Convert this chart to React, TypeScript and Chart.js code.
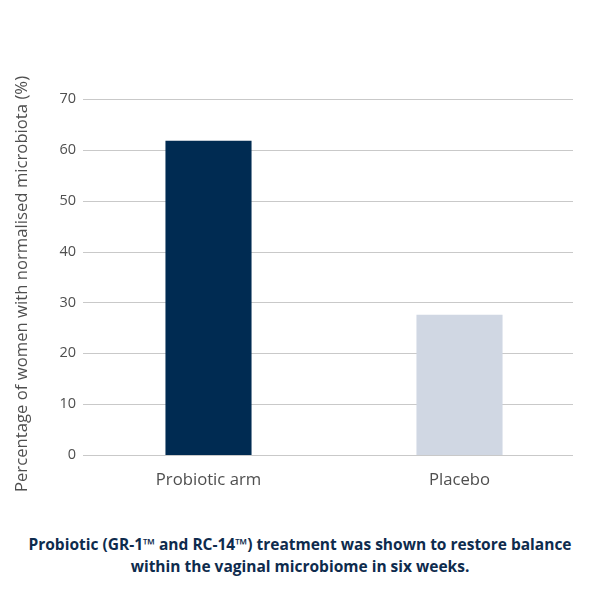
import React, { useEffect, useRef } from "react";
import { Chart, registerables } from "chart.js";

Chart.register(...registerables);

const categories = ["Probiotic arm", "Placebo"];
const values = [61.8, 27.6];
const barColors = ["#002b52", "#d0d7e3"];
const yTicksMax = 70;
const yStep = 10;
const yTitle = "Percentage of women with normalised microbiota (%)";
const captionLines = [
  "Probiotic (GR-1\u2122 and RC-14\u2122) treatment was shown to restore balance",
  "within the vaginal microbiome in six weeks.",
];

const FONT = "'Open Sans', 'Noto Sans', sans-serif";

const customPlugin = {
  id: "customDecor",
  beforeDatasetsDraw(chart: any) {
    const { ctx, scales } = chart;
    const y = scales.y;
    ctx.save();
    ctx.strokeStyle = "#c9c9c9";
    ctx.lineWidth = 1;
    y.ticks.forEach((t: any) => {
      const py = Math.round(y.getPixelForValue(t.value)) + 0.5;
      ctx.beginPath();
      ctx.moveTo(83, py);
      ctx.lineTo(573, py);
      ctx.stroke();
    });
    ctx.restore();
  },
  afterDraw(chart: any) {
    const { ctx } = chart;
    ctx.save();
    ctx.translate(22, 284);
    ctx.rotate(-Math.PI / 2);
    ctx.font = `16.7px ${FONT}`;
    ctx.fillStyle = "#4f4f4f";
    ctx.textAlign = "center";
    ctx.textBaseline = "middle";
    ctx.fillText(yTitle, 0, 0);
    ctx.restore();
  },
};

export default function App() {
  const ref = useRef<HTMLCanvasElement | null>(null);
  useEffect(() => {
    if (!ref.current) return;
    const chart = new Chart(ref.current, {
      type: "bar",
      data: {
        labels: categories,
        datasets: [
          {
            data: values,
            backgroundColor: barColors,
            borderWidth: 0,
            barPercentage: 0.343,
            categoryPercentage: 1,
          },
        ],
      },
      options: {
        animation: false,
        responsive: false,
        maintainAspectRatio: false,
        layout: { padding: { top: 99, right: 15, left: 0, bottom: 0 } },
        plugins: { legend: { display: false }, tooltip: { enabled: false } },
        scales: {
          x: {
            grid: { display: false, drawTicks: false },
            border: { display: false },
            ticks: {
              color: "#4f4f4f",
              font: { family: FONT, size: 16.7 },
              padding: 15,
            },
            afterFit: (s: any) => {
              s.height = 65;
            },
          },
          y: {
            min: 0,
            max: yTicksMax,
            grid: { display: false, drawTicks: false },
            border: { display: false },
            ticks: {
              stepSize: yStep,
              color: "#4f4f4f",
              font: { family: FONT, size: 14.5 },
              padding: 7,
            },
            afterFit: (s: any) => {
              s.width = 83;
            },
          },
        },
      },
      plugins: [customPlugin],
    });
    return () => chart.destroy();
  }, []);
  return (
    <div style={{ position: "absolute", left: 0, top: 0, width: 600, height: 600, background: "#fff" }}>
      <canvas ref={ref} width={600} height={520} style={{ display: "block" }} />
      <div
        style={{
          position: "absolute",
          left: 0,
          top: 533,
          width: 600,
          textAlign: "center",
          fontFamily: FONT,
          fontWeight: 700,
          fontSize: 15.5,
          lineHeight: "22px",
          color: "#0e2b4d",
        }}
      >
        {captionLines.map((l, i) => (
          <div key={i}>{l}</div>
        ))}
      </div>
    </div>
  );
}
